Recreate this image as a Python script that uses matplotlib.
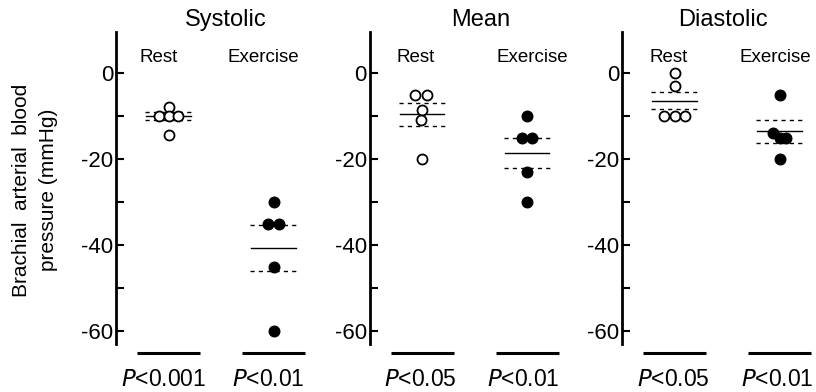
import matplotlib.pyplot as plt
import numpy as np

plt.rcParams['font.family'] = ['Liberation Sans', 'DejaVu Sans']

# panel data (mmHg change)
panels = ["Systolic", "Mean", "Diastolic"]
groups = ["Rest", "Exercise"]
p_labels = [["P<0.001", "P<0.01"], ["P<0.05", "P<0.01"], ["P<0.05", "P<0.01"]]

sys_rest = [-8, -10, -10, -10, -14.5]
sys_ex = [-30, -35, -35, -45, -60]
mean_rest = [-5, -5, -8.5, -11, -20]
mean_ex = [-10, -15, -15, -23, -30]
dia_rest = [0, -3, -10, -10, -10]
dia_ex = [-5, -14, -15, -15, -20]

# group mean and SEM
sys_mean = [-10, -40.7]
sys_sem = [0.9, 5.3]
mean_mean = [-9.6, -18.7]
mean_sem = [2.7, 3.5]
dia_mean = [-6.4, -13.6]
dia_sem = [2.0, 2.6]

values = [[sys_rest, sys_ex], [mean_rest, mean_ex], [dia_rest, dia_ex]]
means = [sys_mean, mean_mean, dia_mean]
sems = [sys_sem, mean_sem, dia_sem]

# small horizontal spread so overlapping points show
jitter = [
    [[0, -0.095, 0, 0.095, 0], [0, -0.05, 0.055, 0, 0]],
    [[-0.07, 0.045, 0, -0.01, 0], [0, -0.05, 0.045, 0, 0]],
    [[0, 0, -0.1, 0, 0.1], [0, -0.06, 0.0, 0.065, 0]],
]

W, H = 816, 392
fig = plt.figure(figsize=(W / 100, H / 100), dpi=100)

lefts = [116, 369.5, 622]
ymin, ymax = -66, 9.5
px_per = 4.3
top_px = 73 - ymax * px_per
bot_px = 73 - ymin * px_per
xmin, xmax = -0.5, 1.45
width_px = (xmax - xmin) * 105

# text placement (pixels)
title_x = [226, 481, 723]
group_x = [[159, 263], [416, 532], [669, 775]]
p_x = [[164, 268], [420, 523], [673, 777]]

for i, name in enumerate(panels):
    ax = fig.add_axes([lefts[i] / W, (H - bot_px) / H, width_px / W, (bot_px - top_px) / H])
    ax.set_xlim(xmin, xmax)
    ax.set_ylim(ymin, ymax)
    for s in ["top", "right", "bottom"]:
        ax.spines[s].set_visible(False)
    ax.spines["left"].set_bounds(-63, ymax)
    ax.spines["left"].set_linewidth(2)
    ax.set_xticks([])
    ax.set_yticks([0, -20, -40, -60])
    ax.set_yticklabels(["0", "-20", "-40", "-60"])
    ax.set_yticks([-10, -30, -50], minor=True)
    ax.tick_params(axis="y", which="both", direction="in", length=6, width=1.5,
                   labelsize=16, pad=2)

    for g in range(2):
        xs = g + np.array(jitter[i][g])
        if g == 0:
            ax.plot(xs, values[i][g], "o", ms=7.2, mfc="white", mec="black", mew=1.3, zorder=3)
        else:
            ax.plot(xs, values[i][g], "o", ms=7.6, mfc="black", mec="black", zorder=3)
        m = means[i][g]
        s = sems[i][g]
        ax.plot([g - 0.21, g + 0.21], [m, m], color="black", lw=1.0)
        ax.plot([g - 0.22, g + 0.22], [m + s, m + s], color="black", lw=1.0, ls=(0, (3, 3)))
        ax.plot([g - 0.22, g + 0.22], [m - s, m - s], color="black", lw=1.0, ls=(0, (3, 3)))
        ax.plot([g - 0.3, g + 0.3], [-65.2, -65.2], color="black", lw=2.2, solid_capstyle="butt")
        fig.text(group_x[i][g] / W, 1 - 58 / H, groups[g], ha="center", va="center", fontsize=13.5)
        p = p_labels[i][g]
        fig.text(p_x[i][g] / W, 1 - 380 / H, "$P$" + p[1:], ha="center", va="center", fontsize=16.5)
    fig.text(title_x[i] / W, 1 - 20 / H, name, ha="center", va="center", fontsize=17)

fig.text(22 / W, 1 - 190 / H, "Brachial  arterial  blood", rotation=90, ha="center", va="center", fontsize=15)
fig.text(49 / W, 1 - 190 / H, "pressure (mmHg)", rotation=90, ha="center", va="center", fontsize=15)

plt.savefig("out.png", dpi=100)
